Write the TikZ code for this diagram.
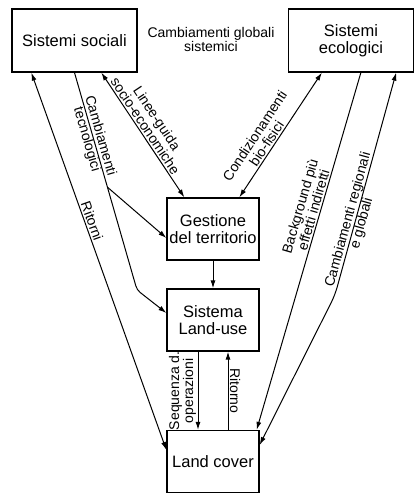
\documentclass[tikz,border=0pt]{standalone}
\usepackage{fontspec}
\setmainfont{Liberation Sans}
\usetikzlibrary{calc,positioning,arrows.meta}

\newcommand{\boxfont}{\fontsize{16.5}{17.5}\selectfont}
\newcommand{\lblfont}{\fontsize{14}{14}\selectfont}

\begin{document}
\begin{tikzpicture}[x=1pt, y=1pt, >={Latex[length=8pt,width=5pt]},
    bigbox/.style={draw,line width=1.3pt,inner sep=0pt,align=center,font=\boxfont,minimum width=125pt,minimum height=63pt},
    smallbox/.style={bigbox,minimum width=92pt,minimum height=62pt},
    flow/.style={line width=1pt},
    lbl/.style={font=\lblfont,align=center,inner sep=1.5pt}]
    \useasboundingbox (0,0) rectangle (416,495);
    \node[bigbox] (soc) at (74.5,454.5) {Sistemi sociali};
    \node[bigbox] (eco) at (351,454.5) {Sistemi\\ecologici};
    \node[smallbox] (gest) at (213,266) {Gestione\\del territorio};
    \node[smallbox] (luse) at (213,175) {Sistema\\Land-use};
    \node[smallbox] (lcov) at (213,33.5) {Land cover};
    \node[lbl] (glob) at (211,455) {Cambiamenti globali\\sistemici};

    % bends and fork
    \coordinate (tbend) at (137,205);
    \coordinate (rbend) at (335,200);
    \coordinate (tfork) at ($(soc.south)!0.527!(tbend)$);

    \draw[flow,<->] ([xshift=20]soc.south west) -- node[lbl,sloped,above,pos=0.4] {Ritorni} ([yshift=11.5]lcov.west);
    \draw[flow,->,rounded corners=4pt] (soc.south) -- node[lbl,sloped,pos=0.3] {Cambiamenti\\tecnologici} (tbend) -- ([yshift=7]luse.west);
    \draw[flow,->] (tfork) -- ([yshift=-9]gest.west);
    \draw[flow,<->] ([xshift=90]soc.south west) -- node[lbl,sloped,above,pos=0.46] {Linee-guida\\socio-economiche} ([xshift=18]gest.north west);
    \draw[flow,<->] ([xshift=73]gest.north west) -- node[lbl,sloped,above,pos=0.4] {Condizionamenti\\bio-fisici} ([xshift=34]eco.south west);
    \draw[flow,<-] ([xshift=-3]lcov.north east) -- node[lbl,sloped,above,pos=0.61] {Background più\\effetti indiretti} ([xshift=73]eco.south west);
    \draw[flow,<->,rounded corners=8pt] ([yshift=16.5]lcov.east) -- (rbend) -- node[lbl,sloped,pos=0.33] {Cambiamenti regionali\\e globali} ([xshift=-18]eco.south east);
    \draw[flow,->] (gest) -- (luse);
    \draw[flow,->] ([xshift=-15]luse.south) -- node[lbl,midway,rotate=90,anchor=south] {Sequenza d.\\operazioni} ([xshift=-15]lcov.north);
    \draw[flow,->] ([xshift=15]lcov.north) -- node[lbl,midway,rotate=-90,anchor=south] {Ritorno} ([xshift=15]luse.south);
\end{tikzpicture}
\end{document}
